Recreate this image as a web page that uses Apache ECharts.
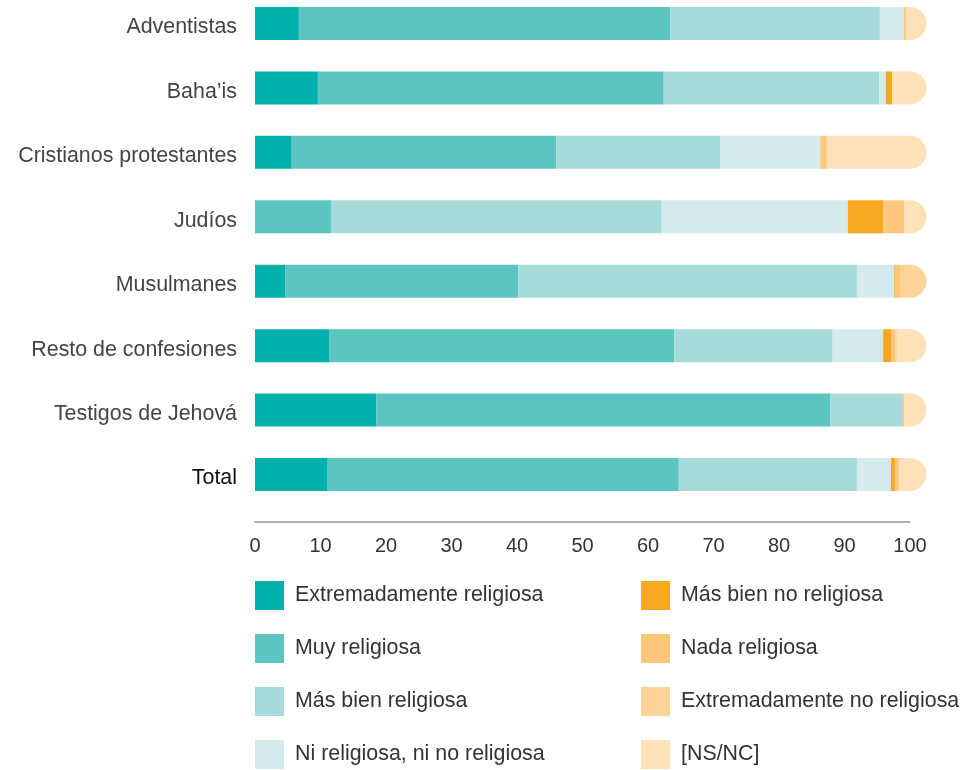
<!DOCTYPE html>
<html>
<head>
<meta charset="utf-8">
<script src="https://cdn.jsdelivr.net/npm/echarts@6/dist/echarts.min.js"></script>
<style>
  html, body { margin: 0; padding: 0; background: #fff; }
  #chart { width: 963px; height: 770px; }
</style>
</head>
<body>
<div id="chart"></div>
<script>
  // categorias (de arriba abajo)
  const categories = ['Adventistas', 'Baha’is', 'Cristianos protestantes', 'Judíos', 'Musulmanes', 'Resto de confesiones', 'Testigos de Jehová', 'Total']
  const seriesNames = ['Extremadamente religiosa', 'Muy religiosa', 'Más bien religiosa', 'Ni religiosa, ni no religiosa', 'Más bien no religiosa', 'Nada religiosa', 'Extremadamente no religiosa', '[NS/NC]']

  // porcentajes
  const extremadamente = [6.7, 9.6, 5.6, 0, 4.6, 11.3, 18.5, 11.1]
  const muy = [56.7, 52.8, 40.4, 11.6, 35.6, 52.7, 69.3, 53.6]
  const masBien = [32.0, 32.9, 25.0, 50.5, 51.7, 24.2, 11.1, 27.2]
  const ni = [3.7, 1.0, 15.3, 28.4, 5.7, 7.7, 0, 5.2]
  const masBienNo = [0, 1.0, 0, 5.4, 0.2, 1.2, 0, 0.6]
  const nada = [0.3, 0, 1.0, 3.2, 0.8, 0.6, 0.2, 0.6]
  const extremadamenteNo = [0, 0, 0, 0, 1.4, 0.3, 0, 0]
  const nsnc = [0.6, 2.7, 12.7, 0.9, 0, 2.0, 0.9, 1.7]

  const xTicks = [0, 10, 20, 30, 40, 50, 60, 70, 80, 90, 100]

  const colors = ['#00B0AD', '#5CC5C1', '#A7DBD9', '#D3ECEB', '#F7A823', '#FCC77A', '#FCD497', '#FDE1B8']
  const values = [extremadamente, muy, masBien, ni, masBienNo, nada, extremadamenteNo, nsnc]

  const BAR_H = 33
  const FONT = 'Liberation Sans, Arial, sans-serif'

  // color del remate redondeado = ultimo tramo no nulo de cada fila
  const capData = categories.map((c, i) => {
    let total = 0
    values.forEach(v => { total += v[i] })
    return [total, i]
  })
  const capColors = categories.map((c, i) => {
    let k = values.length - 1
    while (k > 0 && !values[k][i]) k--
    return colors[k]
  })

  const chart = echarts.init(document.getElementById('chart'))

  const series = seriesNames.map((name, k) => ({
    name: name,
    type: 'bar',
    stack: 'total',
    barWidth: BAR_H,
    clip: false,
    silent: true,
    itemStyle: { color: colors[k] },
    data: values[k]
  }))

  series.push({
    name: 'cap',
    type: 'custom',
    clip: false,
    silent: true,
    z: 3,
    encode: { x: 0, y: 1 },
    data: capData,
    renderItem: function (params, api) {
      const p = api.coord([api.value(0), api.value(1)])
      return {
        type: 'rect',
        shape: { x: p[0] - 0.5, y: p[1] - BAR_H / 2, width: BAR_H / 2 + 0.5, height: BAR_H, r: [0, BAR_H / 2, BAR_H / 2, 0] },
        style: { fill: capColors[params.dataIndex] }
      }
    }
  })

  const legendCommon = {
    orient: 'vertical',
    top: 581,
    icon: 'rect',
    itemWidth: 29,
    itemHeight: 29,
    itemGap: 24,
    padding: 0,
    selectedMode: false,
    textStyle: { fontSize: 21.4, color: '#333', fontFamily: FONT, padding: [3, 0, 0, 6] }
  }

  chart.setOption({
    animation: false,
    textStyle: { fontFamily: FONT },
    grid: { left: 255, right: 53, top: 23.5, height: 451 },
    legend: [
      Object.assign({ left: 255, data: seriesNames.slice(0, 4) }, legendCommon),
      Object.assign({ left: 641, data: seriesNames.slice(4) }, legendCommon)
    ],
    xAxis: {
      type: 'value',
      min: 0,
      max: 100,
      interval: 10,
      offset: 47,
      axisLine: { show: true, lineStyle: { color: '#999', width: 1.5 } },
      axisTick: { show: false },
      splitLine: { show: false },
      axisLabel: {
        fontSize: 20,
        color: '#333',
        margin: 15,
        formatter: v => xTicks.indexOf(v) >= 0 ? String(v) : ''
      }
    },
    yAxis: {
      type: 'category',
      inverse: true,
      boundaryGap: false,
      data: categories,
      axisLine: { show: false },
      axisTick: { show: false },
      splitLine: { show: false },
      axisLabel: {
        margin: 18,
        formatter: v => (v === 'Total' ? '{t|' : '{n|') + v + '}',
        rich: {
          n: { fontSize: 21.4, color: '#444', fontFamily: FONT, padding: [8, 0, 0, 0] },
          t: { fontSize: 21.4, color: '#111', fontFamily: FONT, padding: [8, 0, 0, 0] }
        }
      }
    },
    series: series
  })
</script>
</body>
</html>
